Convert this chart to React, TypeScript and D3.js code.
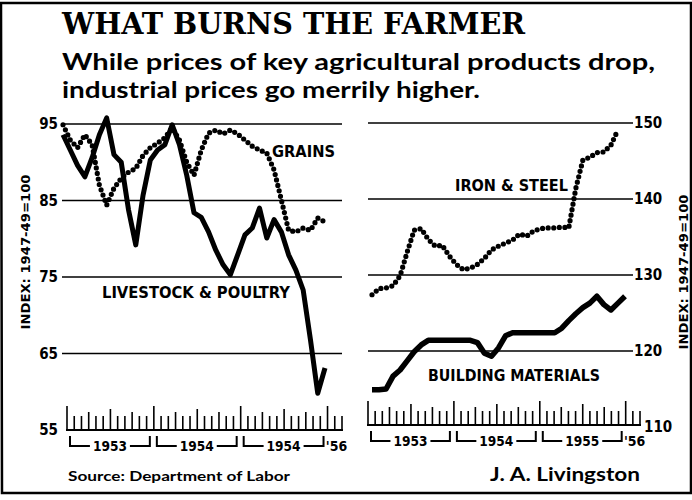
import React from "react";
import * as d3 from "d3";

// monthly index values, Jan 1953 onward
const livestock = [93.6, 91.6, 89.6, 88.1, 90.6, 93.6, 95.8, 91.0, 90.0, 83.8, 79.2, 85.7, 90.3, 91.6, 92.3, 94.9, 92.3, 88.3, 83.4, 82.8, 80.9, 78.5, 76.6, 75.3, 77.9, 80.5, 81.4, 84.0, 80.1, 82.5, 80.9, 77.9, 75.9, 73.3, 66.8, 59.8, 63.1];
const grains = [94.9, 92.9, 91.9, 93.6, 92.3, 87.0, 84.4, 86.6, 87.9, 88.7, 89.2, 90.9, 91.9, 92.5, 93.2, 94.5, 92.9, 90.0, 88.3, 91.6, 93.8, 94.2, 93.7, 94.2, 93.7, 92.9, 92.1, 91.6, 91.2, 89.0, 85.1, 81.1, 80.9, 81.4, 81.1, 82.7, 82.2];
const ironSteel = [127.4, 128.2, 128.3, 128.6, 129.9, 133.0, 135.9, 136.1, 134.7, 133.8, 133.9, 132.5, 131.4, 130.7, 130.9, 131.4, 132.2, 133.3, 133.8, 134.2, 134.6, 135.4, 135.1, 135.8, 136.1, 136.2, 136.2, 136.3, 136.2, 141.4, 145.1, 145.5, 146.1, 146.2, 147.1, 149.1];
const building = [114.9, 114.9, 115.0, 116.7, 117.5, 118.7, 119.9, 120.8, 121.4, 121.4, 121.4, 121.4, 121.4, 121.4, 121.4, 121.1, 119.7, 119.3, 120.4, 122.0, 122.4, 122.4, 122.4, 122.4, 122.4, 122.4, 122.4, 123.0, 124.0, 124.9, 125.7, 126.3, 127.2, 126.1, 125.4, 126.3, 127.2];

const leftTicks = [95, 85, 75, 65, 55];
const rightTicks = [150, 140, 130, 120, 110];
const leftYears = ["1953", "1954", "1954"]; // third one is misprinted in the original
const rightYears = ["1953", "1954", "1955"];
const lastYear = "'56";
const monthCount = 39; // Jan 1953 .. Mar 1956 tick marks

const narrow = "'Liberation Sans Narrow', 'DejaVu Sans Condensed', 'Arial Narrow', sans-serif";
const sans = "Lato, 'DejaVu Sans', sans-serif";

function Ruler({ x0, x1, base, years }) {
  const t = d3.scaleLinear().domain([0, monthCount - 1]).range([x0, x1]);
  const idx = d3.range(monthCount);
  const h = (i) => (i % 12 === 0 ? 24 : i % 6 === 0 ? 21 : i % 3 === 0 ? 18 : 14);
  return (
    <g stroke="#000" fill="none">
      <line x1={x0 - 1} x2={x1 + 1} y1={base} y2={base} strokeWidth={2} />
      {idx.map((i) => (
        <line key={i} x1={t(i)} x2={t(i)} y1={base} y2={base - h(i)} strokeWidth={1.6} />
      ))}
      {years.map((y, k) => {
        const a = t(k * 12) + 3;
        const b = t(k * 12 + 12) - 4;
        const m = (a + b) / 2;
        const yy = base + 16;
        return (
          <g key={k}>
            <path d={`M${a},${base + 6}V${yy}H${m - 20}`} strokeWidth={2} />
            <path d={`M${b},${base + 6}V${yy}H${m + 20}`} strokeWidth={2} />
            <text x={m} y={yy + 5} textAnchor="middle" fill="#000" stroke="none" fontFamily={narrow} fontWeight="bold" fontSize={14} textLength={34} lengthAdjust="spacingAndGlyphs">{y}</text>
          </g>
        );
      })}
      <text x={t(36) + 9} y={base + 21} textAnchor="middle" fill="#000" stroke="none" fontFamily={narrow} fontWeight="bold" fontSize={14}>{lastYear}</text>
    </g>
  );
}

export default function App() {
  const W = 692;
  const H = 500;

  const yL = d3.scaleLinear().domain([55, 95]).range([430, 124]);
  const xL = d3.scaleLinear().domain([0, 36]).range([63, 325]);
  const yR = d3.scaleLinear().domain([110, 150]).range([427, 123]);
  const xR = d3.scaleLinear().domain([0, 36]).range([372, 625]);

  const lineL = d3.line<number>().x((_, i) => xL(i)).y((d) => yL(d));
  const lineR = d3.line<number>().x((_, i) => xR(i)).y((d) => yR(d));

  const dotted = { strokeDasharray: "0 5.6", strokeLinecap: "round" as const, strokeWidth: 5.2 };

  return (
    <svg width={W} height={H} style={{ position: "absolute", left: 0, top: 0, background: "#fff" }}>
      {/* frame */}
      <path d={`M1,3H${W - 1}V493H2Z`} fill="none" stroke="#000" strokeWidth={2.5} />

      {/* headline */}
      <text x={62} y={34} fontFamily="'DejaVu Serif', serif" fontWeight="bold" fontSize={29} textLength={463} lengthAdjust="spacingAndGlyphs">WHAT BURNS THE FARMER</text>
      <text x={62} y={70} fontFamily={sans} fontWeight="bold" fontSize={23} textLength={593} lengthAdjust="spacingAndGlyphs">While prices of key agricultural products drop,</text>
      <text x={62} y={98} fontFamily={sans} fontWeight="bold" fontSize={23} textLength={418} lengthAdjust="spacingAndGlyphs">industrial prices go merrily higher.</text>

      {/* left panel */}
      <g stroke="#000" strokeWidth={1.6}>
        {leftTicks.slice(0, 4).map((v) => (
          <line key={v} x1={62} x2={342} y1={yL(v)} y2={yL(v)} />
        ))}
      </g>
      {leftTicks.map((v) => (
        <text key={v} x={58} y={yL(v) + 5} textAnchor="end" fontFamily={narrow} fontWeight="bold" fontSize={15}>{v}</text>
      ))}
      <text transform={`translate(30,252) rotate(-90)`} textAnchor="middle" fontFamily={narrow} fontWeight="bold" fontSize={12} textLength={155} lengthAdjust="spacingAndGlyphs">INDEX: 1947-49=100</text>

      <path d={lineL(grains) ?? ""} fill="none" stroke="#000" {...dotted} />
      <path d={lineL(livestock) ?? ""} fill="none" stroke="#000" strokeWidth={5} strokeLinejoin="round" />

      <text x={272} y={157} fontFamily={narrow} fontWeight="bold" fontSize={15} textLength={63} lengthAdjust="spacingAndGlyphs">GRAINS</text>
      <text x={102} y={298} fontFamily={narrow} fontWeight="bold" fontSize={15} textLength={188} lengthAdjust="spacingAndGlyphs">LIVESTOCK &amp; POULTRY</text>

      <Ruler x0={67} x1={342} base={430} years={leftYears} />

      {/* right panel */}
      <g stroke="#000" strokeWidth={1.6}>
        {rightTicks.slice(0, 4).map((v) => (
          <line key={v} x1={368} x2={633} y1={yR(v)} y2={yR(v)} />
        ))}
      </g>
      {rightTicks.slice(0, 4).map((v) => (
        <text key={v} x={634} y={yR(v) + 5} fontFamily={narrow} fontWeight="bold" fontSize={15}>{v}</text>
      ))}
      <text x={644} y={yR(110) + 5} fontFamily={narrow} fontWeight="bold" fontSize={15}>{rightTicks[4]}</text>
      <text transform={`translate(688,272) rotate(-90)`} textAnchor="middle" fontFamily={narrow} fontWeight="bold" fontSize={12} textLength={155} lengthAdjust="spacingAndGlyphs">INDEX: 1947-49=100</text>

      <path d={lineR(ironSteel) ?? ""} fill="none" stroke="#000" {...dotted} />
      <path d={lineR(building) ?? ""} fill="none" stroke="#000" strokeWidth={5.5} strokeLinejoin="round" />

      <text x={455} y={191} fontFamily={narrow} fontWeight="bold" fontSize={15} textLength={113} lengthAdjust="spacingAndGlyphs">IRON &amp; STEEL</text>
      <text x={428} y={381} fontFamily={narrow} fontWeight="bold" fontSize={15} textLength={172} lengthAdjust="spacingAndGlyphs">BUILDING MATERIALS</text>

      <Ruler x0={368} x1={640} base={425} years={rightYears} />

      {/* credits */}
      <text x={68} y={481} fontFamily={sans} fontWeight="bold" fontSize={13} textLength={222} lengthAdjust="spacingAndGlyphs">Source: Department of Labor</text>
      <text x={490} y={481} fontFamily={sans} fontWeight="bold" fontSize={18} textLength={150} lengthAdjust="spacingAndGlyphs">J. A. Livingston</text>
    </svg>
  );
}
